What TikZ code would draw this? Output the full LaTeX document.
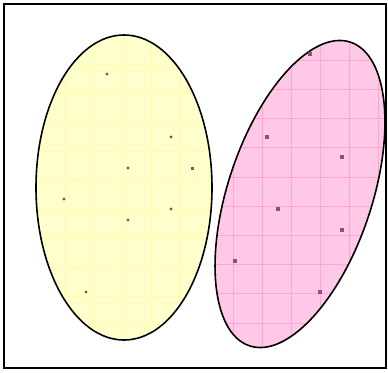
\documentclass[tikz,border=0pt]{standalone}
\begin{document}
\begin{tikzpicture}[x=1pt,y=-1pt,
  outline/.style={line width=1.6pt,black}]
\definecolor{yfill}{HTML}{FFFFCC}
\definecolor{pfill}{HTML}{FFC8E6}
\definecolor{ygr}{HTML}{FFFFA8}
\definecolor{pgr}{HTML}{FFA6D6}
\definecolor{yd}{HTML}{666644}
\definecolor{pd}{HTML}{885572}
\tikzset{ygrid/.style={draw=ygr,line width=0.5pt},
  pgrid/.style={draw=pgr,line width=0.5pt},
  pink/.style={shift={(300,194)},rotate=71.6}}
\useasboundingbox (0,0) rectangle (388,372);
\fill[white] (0,0) rectangle (388,372);
% yellow ellipse
\fill[yfill] (124,187.5) ellipse [x radius=88, y radius=152.5];
\begin{scope}
  \clip (124,187.5) ellipse [x radius=88, y radius=152.5];
  \foreach \x in {6,35,...,240} \draw[ygrid] (\x,0) -- (\x,372);
  \foreach \y in {6,35,...,360} \draw[ygrid] (0,\y) -- (388,\y);
\end{scope}
\draw[outline] (124,187.5) ellipse [x radius=88, y radius=152.5];
% pink ellipse
\fill[pfill,pink] (0,0) ellipse [x radius=160, y radius=72];
\begin{scope}
  \clip[pink] (0,0) ellipse [x radius=160, y radius=72];
  \foreach \x in {204,233,...,400} \draw[pgrid] (\x,0) -- (\x,372);
  \foreach \y in {1.6,30.8,...,372} \draw[pgrid] (0,\y) -- (388,\y);
\end{scope}
\draw[outline,pink] (0,0) ellipse [x radius=160, y radius=72];
% yellow dots
\foreach \p in {(107,74),(171,137),(128,168),(64,199),(171,209),(128,220),(86,292)}
  \fill[yd] \p circle (1.6);
\fill[yd] (190.5,166.5) rectangle (193.5,169.5);
% pink dots
\foreach \x/\y in {310/54,267/137,342/157,278/209,342/230,235/261,320/292}
  \fill[pd] (\x-1.7,\y-1.7) rectangle (\x+1.7,\y+1.7);
% frame
\draw[line width=1.8pt] (4,4) rectangle (386,368);
\end{tikzpicture}
\end{document}
